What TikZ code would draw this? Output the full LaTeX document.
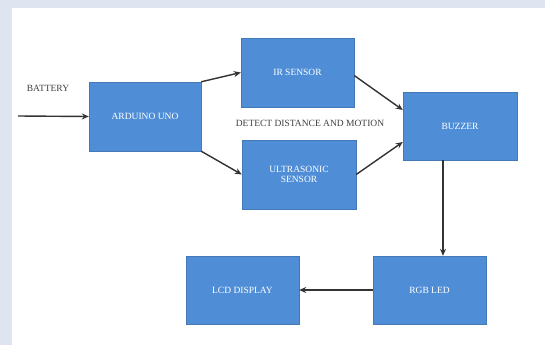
\documentclass[tikz,border=0pt]{standalone}
\usepackage{fontspec}
\setmainfont{Liberation Serif}
\usetikzlibrary{arrows.meta}
\definecolor{boxblue}{HTML}{4F8ED7}
\definecolor{bandcol}{HTML}{DEE5F1}
\definecolor{linecol}{HTML}{333333}
\begin{document}
\begin{tikzpicture}[x=1pt,y=-1pt,
  blk/.style={draw=boxblue!85!black,line width=0.4pt,fill=boxblue,text=white,
    font=\fontsize{9.5}{10.5}\selectfont,align=center,inner sep=0pt},
  conn/.style={draw=linecol,line width=1.4pt,-{Stealth[length=7pt,width=6pt]}},
  lbl/.style={font=\fontsize{9.5}{10.5}\selectfont,text=black!75}]
\useasboundingbox (0,0) rectangle (545,345);
\fill[bandcol] (0,0) rectangle (545,345);
\fill[white] (12,8) rectangle (545,345);
\node[blk,minimum width=112pt,minimum height=69pt] (ard) at (145,116.5) {ARDUINO UNO};
\node[blk,minimum width=113pt,minimum height=69pt] (ir) at (297.5,72.5) {IR SENSOR};
\node[blk,minimum width=114pt,minimum height=69pt] (us) at (299,174.5) {ULTRASONIC\\SENSOR};
\node[blk,minimum width=114pt,minimum height=68pt] (bz) at (460,126) {BUZZER};
\node[blk,minimum width=113pt,minimum height=68pt] (rgb) at (429.5,290) {RGB LED};
\node[blk,minimum width=113pt,minimum height=68pt] (lcd) at (242.5,290) {LCD DISPLAY};
\node[lbl] (bat) at (48,88) {BATTERY};
\node[lbl] (det) at (310,123) {DETECT DISTANCE AND MOTION};
\coordinate (bin) at (18,116);
\draw[conn] (bin) -- (ard.west);
\draw[conn] (ard.north east) -- (ir.west);
\draw[conn] (ard.south east) -- (us.west);
\draw[conn] ([yshift=-3pt]ir.east) -- ([yshift=16pt]bz.west);
\draw[conn] (us.east) -- ([yshift=-16pt]bz.west);
\draw[conn] (bz.south -| 443,0) -- (rgb.north -| 443,0);
\draw[conn] (rgb.west) -- (lcd.east);
\end{tikzpicture}
\end{document}
